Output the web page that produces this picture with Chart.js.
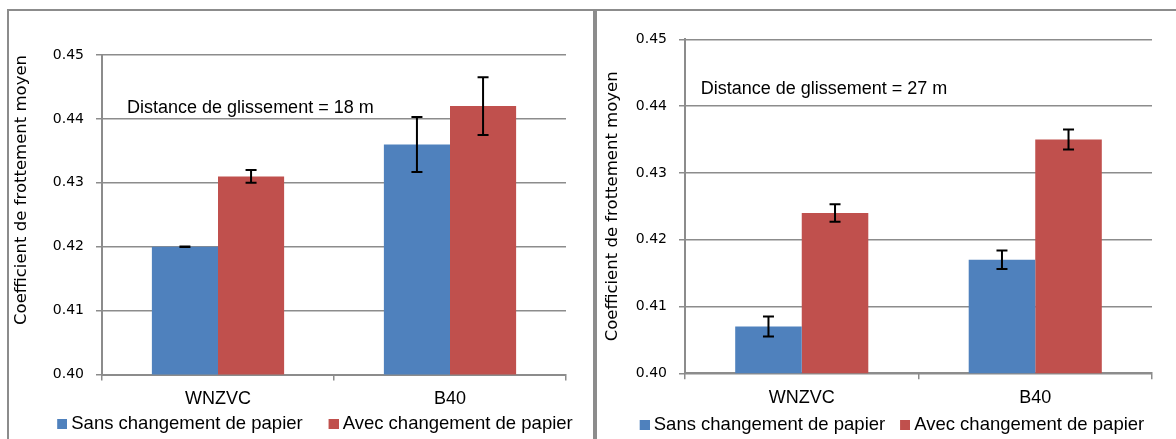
<!DOCTYPE html>
<html>
<head>
<meta charset="utf-8">
<script src="https://cdn.jsdelivr.net/npm/chart.js@4.4.1/dist/chart.umd.min.js"></script>
<style>
  html, body { margin: 0; padding: 0; background: #fff; overflow: hidden; width: 1176px; height: 439px; }
  .wrap { position: absolute; top: 0; }
  .line { position: absolute; background: #8c8c8c; }
</style>
</head>
<body>
<div class="wrap" style="left:0"><canvas id="c1" width="594" height="443"></canvas></div>
<div class="wrap" style="left:597px"><canvas id="c2" width="579" height="444"></canvas></div>
<div class="line" style="left:7px;top:9px;width:1169px;height:2px"></div>
<div class="line" style="left:7px;top:9px;width:2px;height:440px"></div>
<div class="line" style="left:593px;top:9px;width:4px;height:440px"></div>
<script>
// ---- data ----
const categories = ['WNZVC', 'B40'];
const seriesNames = ['Sans changement de papier', 'Avec changement de papier'];
const yTickValues = [0.40, 0.41, 0.42, 0.43, 0.44, 0.45];
const yAxisTitle = 'Coefficient de frottement moyen';

const sans18 = [0.420, 0.436];
const avec18 = [0.431, 0.442];
const errSans18 = [0.00005, 0.0043];
const errAvec18 = [0.0010, 0.0045];
const note18 = 'Distance de glissement = 18 m';

const sans27 = [0.407, 0.417];
const avec27 = [0.424, 0.435];
const errSans27 = [0.0015, 0.0014];
const errAvec27 = [0.0013, 0.0015];
const note27 = 'Distance de glissement = 27 m';

const BLUE = '#4F81BD', RED = '#C0504D', GRID = '#8c8c8c';
const SANS_FONT = "'Liberation Sans', Arial, sans-serif";
const AXIS_FONT = "'DejaVu Sans', Verdana, sans-serif";
const LEGEND_SIZE = 18.5;

// legend marker: 10x10 square placed close to its text inside a wider layout box
function legendMarker(color, bw) {
  const half = LEGEND_SIZE / 2;
  const c = document.createElement('canvas');
  c.width = Math.round(bw + 2 * (half - 4));
  c.height = 10;
  const g = c.getContext('2d');
  g.fillStyle = color;
  g.fillRect(c.width - 10, 0, 10, 10);
  return c;
}

const errorBarPlugin = {
  id: 'errorBars',
  afterDatasetsDraw(chart) {
    const ctx = chart.ctx, y = chart.scales.y;
    chart.data.datasets.forEach((ds, di) => {
      const meta = chart.getDatasetMeta(di);
      meta.data.forEach((bar, i) => {
        const v = ds.data[i], e = ds.errors[i];
        const yt = y.getPixelForValue(v + e), yb = y.getPixelForValue(v - e);
        ctx.save();
        ctx.strokeStyle = '#000';
        ctx.lineWidth = 2;
        ctx.beginPath();
        ctx.moveTo(bar.x, yt); ctx.lineTo(bar.x, yb);
        ctx.moveTo(bar.x - 5.5, yt); ctx.lineTo(bar.x + 5.5, yt);
        ctx.moveTo(bar.x - 5.5, yb); ctx.lineTo(bar.x + 5.5, yb);
        ctx.stroke();
        ctx.restore();
      });
    });
  }
};

const notePlugin = {
  id: 'note',
  afterDraw(chart, args, opts) {
    const ctx = chart.ctx;
    ctx.save();
    ctx.font = '18px ' + SANS_FONT;
    ctx.fillStyle = '#000';
    ctx.textAlign = 'left';
    ctx.textBaseline = 'middle';
    ctx.fillText(opts.text, chart.scales.x.getPixelForValue(opts.x), chart.scales.y.getPixelForValue(opts.y));
    ctx.restore();
  }
};

function makeChart(id, sans, avec, errS, errA, note, cfg) {
  const markers = [legendMarker(BLUE, cfg.markerBox), legendMarker(RED, cfg.markerBox)];
  const scales = {
    x: {
      grid: { display: true, drawOnChartArea: false, drawTicks: true, tickLength: 6, color: GRID, lineWidth: 1.5, offset: true },
      border: { display: true, color: GRID, width: 2 },
      ticks: { font: { family: SANS_FONT, size: 18 }, color: '#000', padding: 8 },
      afterFit(s) { s.height = cfg.xHeight; }
    },
    y: {
      min: 0.40, max: 0.45,
      afterBuildTicks(s) { s.ticks = yTickValues.map(v => ({ value: v })); },
      grid: { color: GRID, lineWidth: 1.5, tickLength: 6, drawTicks: true },
      border: { display: true, color: GRID, width: 2 },
      ticks: { font: { family: AXIS_FONT, size: 14 }, color: '#000', padding: 12, callback: v => v.toFixed(2) },
      title: { display: true, text: yAxisTitle, font: { family: AXIS_FONT, size: 16.5 }, color: '#000', align: cfg.titleAlign, padding: { top: cfg.titlePad, bottom: 0 } },
      afterFit(s) { s.width = cfg.yWidth; }
    }
  };
  if (cfg.rightSpace > 0) {
    scales.spacer = {
      type: 'linear', axis: 'y', position: 'right', display: true,
      grid: { display: false }, border: { display: false }, ticks: { display: false },
      afterFit(s) { s.width = cfg.rightSpace; }
    };
  }
  return new Chart(document.getElementById(id), {
    type: 'bar',
    data: {
      labels: categories,
      datasets: [
        { label: seriesNames[0], data: sans, errors: errS, backgroundColor: BLUE, xAxisID: 'x', yAxisID: 'y' },
        { label: seriesNames[1], data: avec, errors: errA, backgroundColor: RED, xAxisID: 'x', yAxisID: 'y' }
      ]
    },
    options: {
      responsive: false,
      animation: false,
      devicePixelRatio: 1,
      categoryPercentage: 0.57,
      barPercentage: 1.0,
      layout: { padding: { left: cfg.padLeft, right: cfg.padRight, top: cfg.padTop, bottom: 0 } },
      plugins: {
        tooltip: { enabled: false },
        legend: {
          position: 'bottom',
          labels: {
            font: { family: SANS_FONT, size: LEGEND_SIZE },
            color: '#000',
            usePointStyle: true,
            pointStyleWidth: cfg.markerBox,
            boxHeight: 10,
            padding: 5,
            generateLabels(chart) {
              const items = Chart.defaults.plugins.legend.labels.generateLabels(chart);
              items.forEach((it, i) => { it.pointStyle = markers[i]; });
              return items;
            }
          }
        },
        note: { text: note, x: cfg.noteX, y: cfg.noteY }
      },
      scales
    },
    plugins: [errorBarPlugin, notePlugin]
  });
}

makeChart('c1', sans18, avec18, errSans18, errAvec18, note18, {
  padLeft: 20, padRight: 5, rightSpace: 23, padTop: 55, yWidth: 82, xHeight: 35, markerBox: 25.75,
  titlePad: -8.4, titleAlign: 'end', noteX: -0.392, noteY: 0.4417
});
makeChart('c2', sans27, avec27, errSans27, errAvec27, note27, {
  padLeft: 25, padRight: 24, rightSpace: 0, padTop: 39.3, yWidth: 63, xHeight: 37.2, markerBox: 14.75,
  titlePad: -19.4, titleAlign: 'center', noteX: -0.433, noteY: 0.4425
});
</script>
</body>
</html>
